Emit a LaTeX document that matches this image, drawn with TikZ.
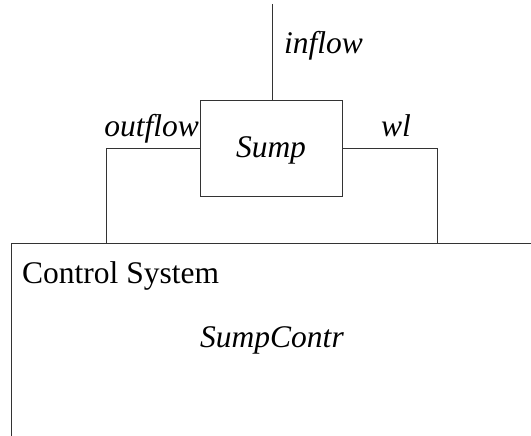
\documentclass[tikz,border=0pt]{standalone}
\usepackage{fontspec}
\setmainfont{Liberation Serif}
\begin{document}
\begin{tikzpicture}[x=1pt,y=1pt,
  conn/.style={draw=black!80, line width=0.9pt},
  boxst/.style={draw=black!80, line width=0.9pt, rectangle, inner sep=0pt},
  lbl/.style={font=\fontsize{31.5}{36}\selectfont\itshape, inner sep=0pt},
  ttl/.style={font=\fontsize{31.5}{36}\selectfont, inner sep=0pt}]
\useasboundingbox (0,0) rectangle (531,-436);
\node[boxst, minimum width=142, minimum height=96] (sump) at (271,-148) {};
\node[lbl] (sumplbl) at (271,-150) {Sump};
\node[boxst, minimum width=540, minimum height=220, anchor=north west] (ctrl) at (11,-243) {};
\node[ttl, anchor=base west] (ctrltitle) at (22,-283) {Control System};
\node[lbl] (contr) at (272,-340) {SumpContr};
\coordinate (intop) at (272,-4);
\coordinate (oleft) at (106,-243);
\coordinate (wright) at (437,-243);
\draw[conn] (intop) -- (intop |- sump.north);
\draw[conn] (sump.west) -| (oleft);
\draw[conn] (sump.east) -| (wright);
\node[lbl, anchor=base west] (inflowlbl) at (284,-54) {inflow};
\node[lbl, anchor=base east] (outflowlbl) at (199,-136) {outflow};
\node[lbl, anchor=base west] (wllbl) at (381,-136) {wl};
\end{tikzpicture}
\end{document}
